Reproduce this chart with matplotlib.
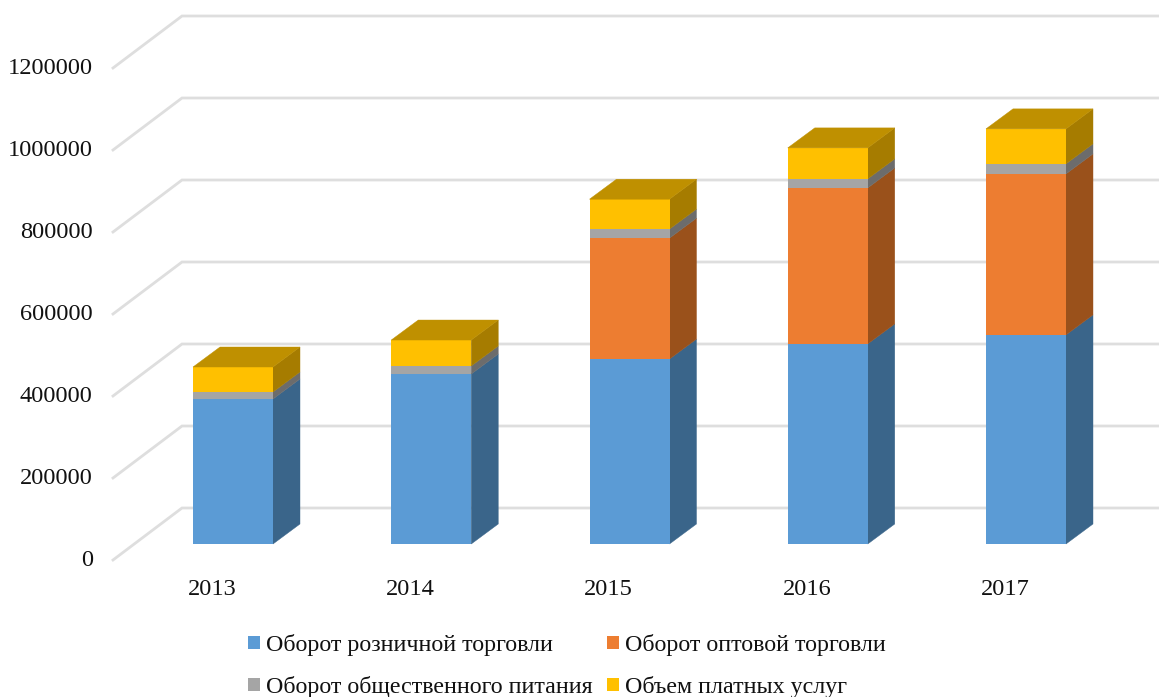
import matplotlib
matplotlib.use("Agg")
import matplotlib.pyplot as plt
import matplotlib.transforms as mtr
from matplotlib.patches import Patch, Polygon
import numpy as np

plt.rcParams['font.family'] = ['Liberation Serif', 'DejaVu Serif']

years = ['2013', '2014', '2015', '2016', '2017']
retail = [353700, 414600, 451000, 488000, 510000]
wholesale = [0, 0, 295000, 380500, 392700]
catering = [17000, 19500, 22000, 22000, 24400]
services = [61000, 63400, 73000, 75600, 85400]
series_names = ['Оборот розничной торговли', 'Оборот оптовой торговли',
                'Оборот общественного питания', 'Объем платных услуг']
series = [retail, wholesale, catering, services]
front_colors = ['#5B9BD5', '#ED7D31', '#A5A5A5', '#FFC000']
side_colors = ['#3A658A', '#9A511B', '#6C6C6C', '#A67C00']
top_color = '#BF9000'
grid_color = '#DEDEDE'
y_ticks = [0, 200000, 400000, 600000, 800000, 1000000, 1200000]

W, H = 1159, 697
fig = plt.figure(figsize=(W / 100, H / 100), dpi=100)
px_left, px_right, px_zero, px_top = 113, 1159, 560, 68
ax = fig.add_axes([px_left / W, 1 - px_zero / H, (px_right - px_left) / W, (px_zero - px_top) / H])
cat_step = 198.25
cat_zero = 212
ax.set_xlim((px_left - cat_zero) / cat_step, (px_right - cat_zero) / cat_step)
ax.set_ylim(0, 1200000)
for s in ax.spines.values():
    s.set_visible(False)
ax.patch.set_alpha(0)

ax.set_yticks(y_ticks)
ax.set_yticklabels([str(v) for v in y_ticks], fontsize=17.6, color='#111111')
ax.set_xticks(range(len(years)))
ax.set_xticklabels(years, fontsize=17.6, color='#111111')
ax.tick_params(axis='y', length=0, pad=14.5)
ax.tick_params(axis='x', length=0, pad=13.5)
for lbl in ax.get_yticklabels():
    lbl.set_transform(lbl.get_transform() + mtr.Affine2D().translate(0, 2))

# perspective wall / gridlines
wall_dx, wall_dy = 69, 52
xspan = (ax.get_xlim()[1] - ax.get_xlim()[0]) / (px_right - px_left)
yspan = 1200000 / (px_zero - px_top)
x0 = ax.get_xlim()[0]
for v in y_ticks:
    ax.plot([x0, x0 + wall_dx * xspan, ax.get_xlim()[1]],
            [v, v + wall_dy * yspan, v + wall_dy * yspan],
            color=grid_color, lw=2.0, clip_on=False, zorder=1, solid_joinstyle='miter')

# bars: shifted from the front plane into the floor
bar_dx, bar_dy = 21, 16
depth_dx, depth_dy = 27, 20
width = 80 * xspan
tr = mtr.offset_copy(ax.transData, fig, x=bar_dx, y=bar_dy, units='dots')
ddx, ddy = depth_dx * xspan, depth_dy * yspan

bottoms = np.zeros(len(years))
for vals, fc, sc in zip(series, front_colors, side_colors):
    vals = np.array(vals, dtype=float)
    for i, (b, v) in enumerate(zip(bottoms, vals)):
        if v <= 0:
            continue
        r = i + width / 2
        side = [(r, b), (r + ddx, b + ddy), (r + ddx, b + v + ddy), (r, b + v)]
        ax.add_patch(Polygon(side, closed=True, facecolor=sc, edgecolor=sc, lw=0.3,
                             transform=tr, clip_on=False, zorder=3))
    ax.bar(range(len(years)), vals, width=width, bottom=bottoms, color=fc, lw=0,
           transform=tr, clip_on=False, zorder=4)
    bottoms = bottoms + vals

for i, t in enumerate(bottoms):
    l, r = i - width / 2, i + width / 2
    top = [(l, t), (r, t), (r + ddx, t + ddy), (l + ddx, t + ddy)]
    ax.add_patch(Polygon(top, closed=True, facecolor=top_color, edgecolor=top_color, lw=0.3,
                         transform=tr, clip_on=False, zorder=5))

handles = [Patch(facecolor=c, edgecolor='none', label=n) for c, n in zip(front_colors, series_names)]
order = [0, 2, 1, 3]
fig.legend([handles[i] for i in order], [series_names[i] for i in order],
           ncol=2, frameon=False, fontsize=17.3, labelcolor='#111111',
           loc='center', bbox_to_anchor=(567 / W, 1 - 666 / H),
           handlelength=0.5, handleheight=0.5, handletextpad=0.25,
           columnspacing=0.6, labelspacing=0.83, borderpad=0)

fig.savefig('out.png', dpi=100)
